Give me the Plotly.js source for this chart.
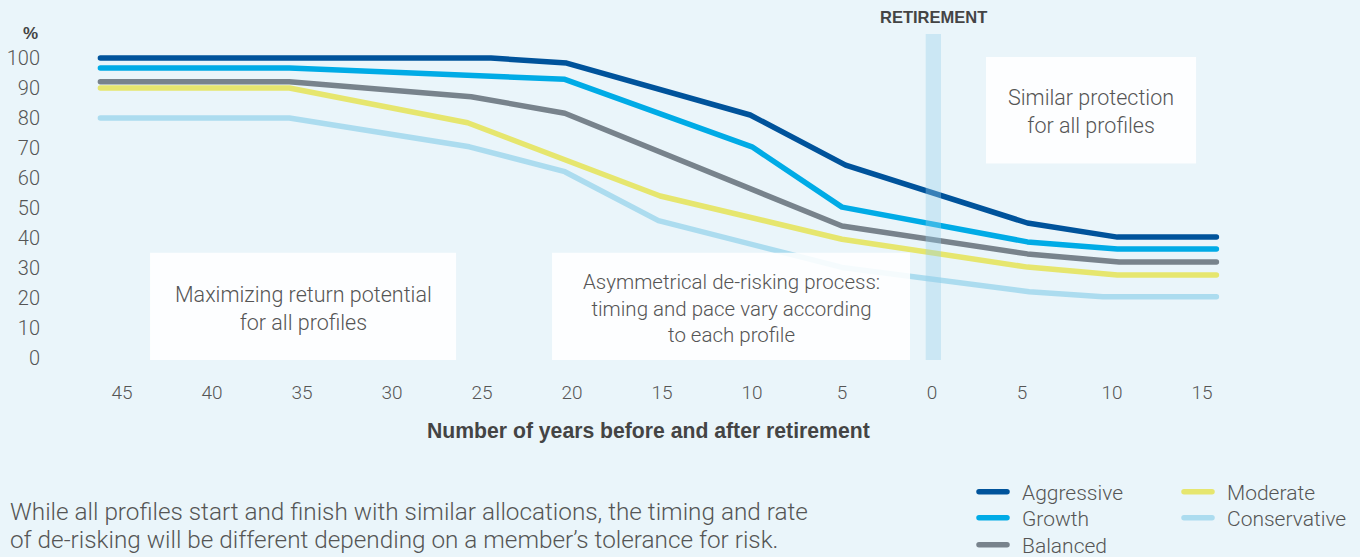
<!DOCTYPE html>
<html>
<head>
<meta charset="utf-8">
<script src="https://cdn.plot.ly/plotly-3.0.1.min.js"></script>
<style>
html,body{margin:0;padding:0;background:#eaf5fa;}
#chart{width:1360px;height:557px;}
.scatterlayer .js-line, .legendlines path{stroke-linecap:round;stroke-linejoin:round;}
.legendlines path{d: path("M5,0h28");}
</style>
</head>
<body>
<div id="chart"></div>
<script>
// Years relative to retirement (negative = before retirement)
const tickVals = [-45,-40,-35,-30,-25,-20,-15,-10,-5,0,5,10,15];
const tickText = ["45","40","35","30","25","20","15","10","5","0","5","10","15"];

const aggressiveX = [-46.2, -24.5, -20.3, -10.1, -4.8, 5.3, 10.3, 15.8];
const aggressiveY = [100, 100, 98.3, 81, 64.3, 45, 40.3, 40.3];

const growthX = [-46.2, -35.7, -20.4, -10, -5, 5.3, 10.3, 15.8];
const growthY = [96.7, 96.7, 92.9, 70.4, 50.3, 38.7, 36.3, 36.3];

const balancedX = [-46.2, -35.7, -25.6, -20.4, -5, 5.3, 10.4, 15.8];
const balancedY = [92.1, 92.1, 87.1, 81.6, 44, 34.7, 32, 32];

const moderateX = [-46.2, -35.7, -25.8, -15.1, -5, 5.3, 10.3, 15.8];
const moderateY = [90, 90, 78.4, 54, 39.6, 30.3, 27.7, 27.7];

const conservativeX = [-46.2, -35.7, -25.7, -20.4, -15.2, -5, 5.4, 9.5, 15.8];
const conservativeY = [80, 80, 70.4, 62.1, 45.8, 30.2, 22.1, 20.4, 20.4];

const seriesNames = ["Aggressive","Growth","Balanced","Moderate","Conservative"];
const seriesColors = ["#00539b","#00abe6","#78838c","#e6e66e","#acdcef"];

const TXT = "#555555";
const FONT = "Roboto, 'Liberation Sans', sans-serif";
const BOLD = "'Liberation Sans', Arial, sans-serif";

// pixel helpers for plot area: left 50, width 1188, top 34, height 327
const PL = 50, PW = 1188, PT = 34, PH = 327;
function px(x){ return (x - PL) / PW; }
function py(y){ return (PT + PH - y) / PH; }

function tr(x, y, i, leg){
  return {
    x: x, y: y, type: "scatter", mode: "lines", name: seriesNames[i],
    line: {color: seriesColors[i], width: 5.5},
    legend: leg, hoverinfo: "skip"
  };
}

const data = [
  tr(conservativeX, conservativeY, 4, "legend5"),
  tr(moderateX, moderateY, 3, "legend4"),
  tr(balancedX, balancedY, 2, "legend3"),
  tr(growthX, growthY, 1, "legend2"),
  tr(aggressiveX, aggressiveY, 0, "legend")
];

function leg(xPx, yPx){
  return {
    xref: "container", yref: "container", x: xPx/1360, y: 1 - yPx/557,
    xanchor: "left", yanchor: "middle", itemwidth: 38,
    bgcolor: "rgba(0,0,0,0)", borderwidth: 0,
    font: {size: 21, color: TXT, family: FONT, weight: 300}
  };
}

const layout = {
  width: 1360, height: 557,
  paper_bgcolor: "#eaf5fa", plot_bgcolor: "#eaf5fa",
  margin: {l: PL, r: 1360 - PL - PW, t: PT, b: 557 - PT - PH, pad: 0, autoexpand: false},
  font: {family: FONT, color: TXT, size: 18, weight: 300},
  showlegend: true,
  legend: leg(974, 492),
  legend2: leg(974, 518),
  legend3: leg(974, 545),
  legend4: leg(1179, 492),
  legend5: leg(1179, 518),
  xaxis: {
    range: [-49, 17], tickmode: "array", tickvals: tickVals, ticktext: tickText,
    showgrid: false, zeroline: false, showline: false, ticks: "",
    ticklabelstandoff: 18, tickfont: {size: 19, color: TXT, family: FONT, weight: 300},
    fixedrange: true, automargin: false
  },
  yaxis: {
    range: [-1, 108], tickmode: "array", tickvals: [0,10,20,30,40,50,60,70,80,90,100],
    showgrid: false, zeroline: false, showline: false, ticks: "",
    ticklabelstandoff: 9, tickfont: {size: 20, color: TXT, family: FONT, weight: 300},
    fixedrange: true, automargin: false
  },
  shapes: [
    {type: "rect", xref: "x", yref: "y", x0: -0.35, x1: 0.5, y0: -0.7, y1: 108,
     fillcolor: "rgba(150,205,232,0.37)", line: {width: 0}, layer: "above"},
    {type: "rect", xref: "x", yref: "y", x0: -43.44, x1: -26.44, y0: -0.7, y1: 35.1,
     fillcolor: "rgba(255,255,255,0.9)", line: {width: 0}, layer: "above"},
    {type: "rect", xref: "x", yref: "y", x0: -21.11, x1: -1.22, y0: -0.7, y1: 35.1,
     fillcolor: "rgba(255,255,255,0.88)", line: {width: 0}, layer: "above"},
    {type: "rect", xref: "x", yref: "y", x0: 3.0, x1: 14.67, y0: 64.8, y1: 100.3,
     fillcolor: "rgba(255,255,255,0.9)", line: {width: 0}, layer: "above"}
  ],
  annotations: [
    {xref: "paper", yref: "paper", x: px(30), y: py(33), text: "<b>%</b>", showarrow: false,
     font: {size: 17, color: "#444", family: BOLD}, xanchor: "center", yanchor: "middle"},
    {xref: "paper", yref: "paper", x: px(933.5), y: py(17), text: "<b>RETIREMENT</b>", showarrow: false,
     font: {size: 16.5, color: "#444", family: BOLD}, xanchor: "center", yanchor: "middle"},
    {xref: "paper", yref: "paper", x: px(648), y: py(431), text: "<b>Number of years before and after retirement</b>", showarrow: false,
     font: {size: 21.2, color: "#444", family: BOLD}, xanchor: "center", yanchor: "middle"},
    {xref: "paper", yref: "paper", x: px(303), y: py(308), text: "Maximizing return potential<br>for all profiles", showarrow: false,
     font: {size: 21.5, color: TXT}, xanchor: "center", yanchor: "middle", align: "center"},
    {xref: "paper", yref: "paper", x: px(731), y: py(308), text: "Asymmetrical de-risking process:<br>timing and pace vary according<br>to each profile", showarrow: false,
     font: {size: 20.5, color: TXT}, xanchor: "center", yanchor: "middle", align: "center"},
    {xref: "paper", yref: "paper", x: px(1091), y: py(111), text: "Similar protection<br>for all profiles", showarrow: false,
     font: {size: 21.5, color: TXT}, xanchor: "center", yanchor: "middle", align: "center"},
    {xref: "paper", yref: "paper", x: px(8), y: py(511), text: "While all profiles start and finish with similar allocations, the timing and rate", showarrow: false,
     font: {size: 24.3, color: TXT}, xanchor: "left", yanchor: "middle", align: "left"},
    {xref: "paper", yref: "paper", x: px(8), y: py(539), text: "of de-risking will be different depending on a member\u2019s tolerance for risk.", showarrow: false,
     font: {size: 24.3, color: TXT}, xanchor: "left", yanchor: "middle", align: "left"}
  ]
};

Plotly.newPlot("chart", data, layout, {displayModeBar: false, staticPlot: true});
</script>
</body>
</html>
